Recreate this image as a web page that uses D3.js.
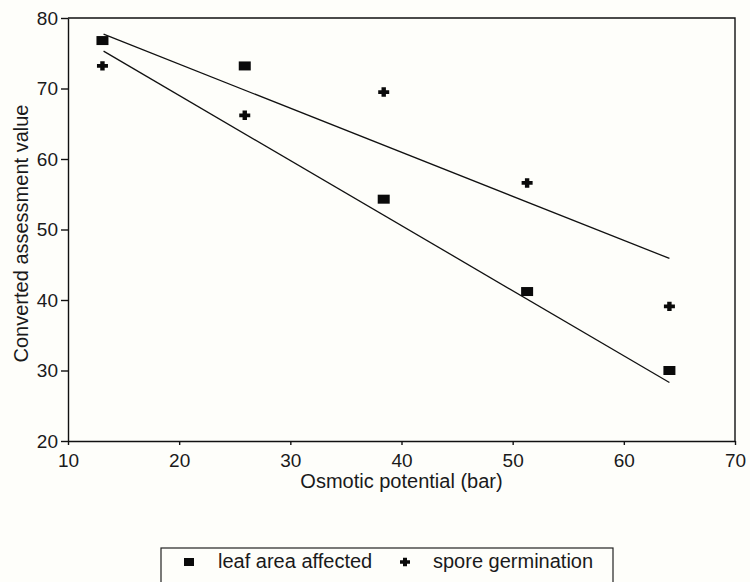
<!DOCTYPE html>
<html>
<head>
<meta charset="utf-8">
<script src="https://cdn.jsdelivr.net/npm/d3@7"></script>
<style>
  html, body { margin: 0; padding: 0; background: #fefefa; }
  svg { display: block; font-family: "Liberation Sans", Arial, Helvetica, sans-serif; }
  .axis path, .axis line { stroke: #111; stroke-width: 1.4px; }
  .axis text { fill: #1a1a1a; font-size: 19px; }
</style>
</head>
<body>
<svg id="chart" width="750" height="582"></svg>
<script>
// values
const osmoticPotential = [13.1, 25.9, 38.4, 51.3, 64.1]
const leafAreaAffected = [76.8, 73.2, 54.3, 41.2, 30.0]
const sporeGermination = [73.2, 66.2, 69.5, 56.6, 39.1]

// fitted lines as drawn (start and end)
const trendX = [13.2, 64.1]
const leafTrend = [75.3, 28.3]
const sporeTrend = [77.7, 45.9]

const xTicks = [10, 20, 30, 40, 50, 60, 70]
const yTicks = [20, 30, 40, 50, 60, 70, 80]
const legendLabels = ["leaf area affected", "spore germination"]

const svg = d3.select("#chart")
const plotLeft = 68, plotRight = 735, plotTop = 18, plotBottom = 441

const x = d3.scaleLinear().domain([10, 70]).range([plotLeft, plotRight])
const y = d3.scaleLinear().domain([20, 80]).range([plotBottom, plotTop])

// frame (top + right), axes draw the other two sides
svg.append("path")
  .attr("d", `M${plotLeft},${plotTop} H${plotRight} V${plotBottom}`)
  .attr("fill", "none")
  .attr("stroke", "#111")
  .attr("stroke-width", 1.4)

const xAxis = svg.append("g")
  .attr("class", "axis")
  .attr("transform", `translate(0,${plotBottom})`)
  .call(d3.axisBottom(x).tickValues(xTicks).tickSize(4).tickPadding(7).tickSizeOuter(0))
xAxis.selectAll("text").attr("dy", "0.78em")

svg.append("g")
  .attr("class", "axis")
  .attr("transform", `translate(${plotLeft},0)`)
  .call(d3.axisLeft(y).tickValues(yTicks).tickSize(7).tickPadding(3).tickSizeOuter(0))

// axis titles
svg.append("text")
  .attr("x", (plotLeft + plotRight) / 2)
  .attr("y", 488)
  .attr("text-anchor", "middle")
  .attr("font-size", 20)
  .attr("fill", "#1a1a1a")
  .text("Osmotic potential (bar)")

svg.append("text")
  .attr("transform", `translate(28,${(plotTop + plotBottom) / 2 + 4}) rotate(-90)`)
  .attr("text-anchor", "middle")
  .attr("font-size", 20)
  .attr("fill", "#1a1a1a")
  .text("Converted assessment value")

// trend lines
const line = d3.line().x((d) => x(d[0])).y((d) => y(d[1]))
;[leafTrend, sporeTrend].forEach((t) => {
  svg.append("path")
    .datum(d3.zip(trendX, t))
    .attr("d", line)
    .attr("fill", "none")
    .attr("stroke", "#111")
    .attr("stroke-width", 1.3)
})

// markers
const crossPath = (s) => {
  const a = s / 2, b = s / 5
  return `M${-a},${-b} H${-b} V${-a} H${b} V${-b} H${a} V${b} H${b} V${a} H${-b} V${b} H${-a} Z`
}

svg.append("g")
  .selectAll("rect")
  .data(d3.zip(osmoticPotential, leafAreaAffected))
  .join("rect")
  .attr("x", (d) => x(d[0]) - 6)
  .attr("y", (d) => y(d[1]) - 4.5)
  .attr("width", 12)
  .attr("height", 9)
  .attr("fill", "#0a0a0a")

svg.append("g")
  .selectAll("path")
  .data(d3.zip(osmoticPotential, sporeGermination))
  .join("path")
  .attr("transform", (d) => `translate(${x(d[0])},${y(d[1])}) scale(1,0.85)`)
  .attr("d", crossPath(11))
  .attr("fill", "#0a0a0a")

// legend
const legend = svg.append("g")
legend.append("rect")
  .attr("x", 161)
  .attr("y", 548)
  .attr("width", 452)
  .attr("height", 40)
  .attr("fill", "none")
  .attr("stroke", "#222")
  .attr("stroke-width", 1.2)

legend.append("rect")
  .attr("x", 184).attr("y", 558)
  .attr("width", 10).attr("height", 8)
  .attr("fill", "#0a0a0a")
legend.append("path")
  .attr("transform", "translate(405,562) scale(1,0.85)")
  .attr("d", crossPath(10))
  .attr("fill", "#0a0a0a")

legend.selectAll("text")
  .data(legendLabels)
  .join("text")
  .attr("x", (d, i) => [218, 433][i])
  .attr("y", 568)
  .attr("font-size", 20)
  .attr("fill", "#1a1a1a")
  .text((d) => d)
</script>
</body>
</html>
